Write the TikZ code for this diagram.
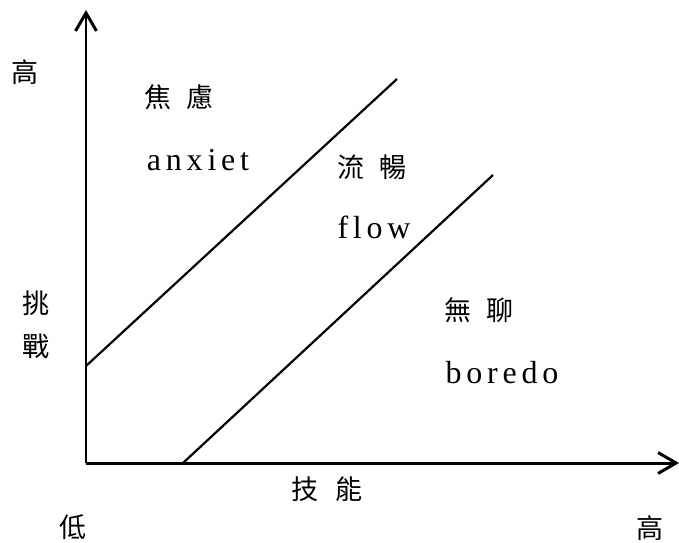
\documentclass[tikz,border=0pt]{standalone}
\usepackage{fontspec}
\setmainfont{Liberation Serif}
\newfontfamily\cjk{Noto Sans CJK TC}
\newfontfamily\spaced[LetterSpace=15]{Liberation Serif}
\usetikzlibrary{arrows.meta}
\begin{document}
\begin{tikzpicture}[x=0.02cm,y=-0.02cm,
  zh/.style={inner sep=0pt,font=\cjk\fontsize{15.4}{16}\selectfont},
  en/.style={inner sep=0pt,anchor=base,font=\spaced\fontsize{18.2}{20}\selectfont},
  axis/.style={line width=1.7pt,-{Straight Barb[length=0.36cm,width=0.42cm]}},
  band/.style={line width=1.25pt}]
\useasboundingbox (0,0) rectangle (679,542);
\coordinate (o) at (86,463);
\coordinate (ytop) at (86,10);
\coordinate (xend) at (679,463);
\coordinate (a1) at (86,366);
\coordinate (a2) at (397,79);
\coordinate (b1) at (183,463);
\coordinate (b2) at (493,175);
\draw[axis] (o) -- (ytop);
\draw[axis] (o) -- (xend);
\draw[band] (a1) -- (a2);
\draw[band] (b1) -- (b2);
% labels
\node[zh] (yhigh) at (25,72) {高};
\node[zh] (tiao) at (36,303) {挑};
\node[zh] (zhan) at (36,346) {戰};
\node[zh] (skill) at (327,489) {技\hspace{0.6em}能};
\node[zh] (low) at (73,527) {低};
\node[zh] (xhigh) at (650,528) {高};
\node[zh] (anx) at (179,97) {焦\hspace{0.55em}慮};
\node[en] (anxen) at (198,170) {anxiet};
\node[zh] (flo) at (372,167) {流\hspace{0.55em}暢};
\node[en] (floen) at (374,238) {flow};
\node[zh] (bor) at (479,310) {無\hspace{0.55em}聊};
\node[en] (boren) at (502,383) {boredo};
\end{tikzpicture}
\end{document}
